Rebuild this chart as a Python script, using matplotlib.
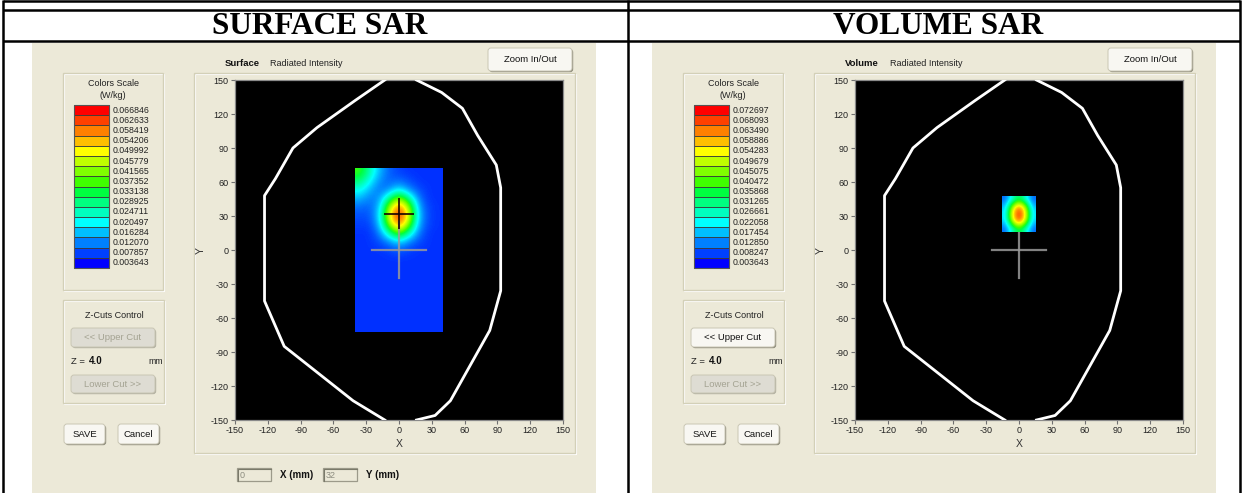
import matplotlib
matplotlib.use("Agg")
import matplotlib.pyplot as plt
from matplotlib.colors import LinearSegmentedColormap
from matplotlib.patches import Rectangle, FancyBboxPatch

# ---------------- data ----------------
titles = ["SURFACE SAR", "VOLUME SAR"]
mode_names = ["Surface", "Volume"]

scale_colors = ["#FF0000", "#FF4000", "#FF8000", "#FFBF00", "#FFFF00", "#BFFF00",
                "#80FF00", "#40FF00", "#00FF40", "#00FF80", "#00FFBF", "#00FFFF",
                "#00BFFF", "#0080FF", "#0040FF", "#0000FF"]

surface_labels = ["0.066846", "0.062633", "0.058419", "0.054206", "0.049992", "0.045779",
                  "0.041565", "0.037352", "0.033138", "0.028925", "0.024711", "0.020497",
                  "0.016284", "0.012070", "0.007857", "0.003643"]
volume_labels = ["0.072697", "0.068093", "0.063490", "0.058886", "0.054283", "0.049679",
                 "0.045075", "0.040472", "0.035868", "0.031265", "0.026661", "0.022058",
                 "0.017454", "0.012850", "0.008247", "0.003643"]
surface_range = [0.003643, 0.066846]
volume_range = [0.003643, 0.072697]

axis_ticks = [-150, -120, -90, -60, -30, 0, 30, 60, 90, 120, 150]

# SAR map of the surface scan (rows from top y=+72 to bottom y=-72, cols x=-40..40)
surface_extent = [-40, 40, -72, 72]
surface_sar = [
    [0.037, 0.026, 0.016, 0.010, 0.008, 0.007, 0.007, 0.007, 0.007],
    [0.030, 0.021, 0.013, 0.010, 0.011, 0.009, 0.007, 0.007, 0.007],
    [0.022, 0.016, 0.011, 0.013, 0.020, 0.013, 0.009, 0.007, 0.007],
    [0.016, 0.012, 0.013, 0.028, 0.044, 0.028, 0.012, 0.007, 0.007],
    [0.011, 0.010, 0.016, 0.044, 0.061, 0.044, 0.015, 0.008, 0.007],
    [0.009, 0.009, 0.018, 0.050, 0.067, 0.050, 0.017, 0.008, 0.007],
    [0.008, 0.008, 0.016, 0.043, 0.060, 0.043, 0.015, 0.008, 0.007],
    [0.007, 0.007, 0.012, 0.027, 0.042, 0.027, 0.012, 0.007, 0.007],
    [0.007, 0.007, 0.009, 0.013, 0.019, 0.013, 0.009, 0.007, 0.007],
    [0.007, 0.007, 0.007, 0.008, 0.010, 0.008, 0.007, 0.007, 0.007],
    [0.007, 0.007, 0.007, 0.007, 0.007, 0.007, 0.007, 0.007, 0.007],
    [0.007, 0.007, 0.007, 0.007, 0.007, 0.007, 0.007, 0.007, 0.007],
    [0.007, 0.007, 0.007, 0.007, 0.007, 0.007, 0.007, 0.007, 0.007],
    [0.007, 0.007, 0.007, 0.007, 0.007, 0.007, 0.007, 0.007, 0.007],
    [0.007, 0.007, 0.007, 0.007, 0.007, 0.007, 0.007, 0.007, 0.007],
    [0.007, 0.007, 0.007, 0.007, 0.007, 0.007, 0.007, 0.007, 0.007],
    [0.007, 0.007, 0.007, 0.007, 0.007, 0.007, 0.007, 0.007, 0.007],
    [0.007, 0.007, 0.007, 0.007, 0.007, 0.007, 0.007, 0.007, 0.007],
    [0.007, 0.007, 0.007, 0.007, 0.007, 0.007, 0.007, 0.007, 0.007],
]

# SAR map of the volume scan (rows top y=47.5 to bottom y=16, cols x=-15.5..15.5)
volume_extent = [-15.5, 15.5, 16, 47.5]
volume_sar = [
    [0.011, 0.024, 0.036, 0.024, 0.011],
    [0.017, 0.047, 0.066, 0.047, 0.017],
    [0.020, 0.055, 0.073, 0.055, 0.020],
    [0.018, 0.049, 0.068, 0.049, 0.018],
    [0.011, 0.026, 0.038, 0.026, 0.011],
]

# phantom outline (mm)
outline_left_x = [-13, -40, -75, -97, -113, -123, -123, -105, -42, -13]
outline_left_y = [150, 132, 108, 90, 63, 48, -45, -85, -133, -150]
outline_right_x = [16, 39, 58, 72, 89, 93, 93, 83, 47, 33, 16]
outline_right_y = [150, 139, 125, 101, 75, 55, -36, -71, -133, -146, -150]

# reference cross and peak marker (mm)
ref_cross_x = [-25, 25]
ref_cross_y = [-25, 25]
peak_xy = [0, 32]
peak_arm = 12.8

z_value = "4.0"
probe_x = "0"
probe_y = "32"

# ---------------- style ----------------
W, H = 1244, 493
PANEL = "#ECE9D8"
ETCH = "#D3D0B8"
NARROW = ["Liberation Sans Narrow", "Liberation Sans", "DejaVu Sans"]
plt.rcParams["font.family"] = NARROW
plt.rcParams["axes.unicode_minus"] = False

fig = plt.figure(figsize=(W / 100, H / 100), dpi=100)
fig.patch.set_facecolor("white")
bg = fig.add_axes([0, 0, 1, 1])
bg.set_xlim(0, W)
bg.set_ylim(H, 0)
bg.axis("off")

cmap = LinearSegmentedColormap.from_list("sar", scale_colors[::-1])

# table lines
for y in [1, 9.5, 41]:
    bg.plot([3, 1240], [y, y], color="black", lw=1.8, solid_capstyle="butt")
for x in [3, 628, 1240]:
    bg.plot([x, x], [0, H], color="black", lw=1.8, solid_capstyle="butt")
for cx, t in zip([320, 938], titles):
    bg.text(cx, 26, t, ha="center", va="center", fontsize=22.5, fontweight="bold",
            family="Liberation Serif", color="black")


def button(x0, y0, x1, y1, label, enabled=True, fs=6.8):
    bg.add_patch(FancyBboxPatch((x0 + 1.2, y0 + 1.2), x1 - x0, y1 - y0,
                                boxstyle="round,pad=0,rounding_size=3",
                                fc="#8F8D7C" if enabled else "#B3B1A2", ec="none"))
    bg.add_patch(FancyBboxPatch((x0, y0), x1 - x0, y1 - y0,
                                boxstyle="round,pad=0,rounding_size=3",
                                fc="#F8F7F2" if enabled else "#DEDCD3",
                                ec="#C9C6B4", lw=0.7))
    bg.text((x0 + x1) / 2, (y0 + y1) / 2 + 0.5, label, ha="center", va="center",
            fontsize=fs, color="#111111" if enabled else "#A4A392")


def etched(x0, y0, x1, y1):
    bg.add_patch(Rectangle((x0 + 1, y0 + 1), x1 - x0, y1 - y0, fc="none", ec="white", lw=0.8))
    bg.add_patch(Rectangle((x0, y0), x1 - x0, y1 - y0, fc="none", ec=ETCH, lw=1.0))


def panel(dx, idx):
    labels = surface_labels if idx == 0 else volume_labels
    bg.add_patch(Rectangle((32 + dx, 43), 564, 450, fc=PANEL, ec="none"))
    # colour scale box
    etched(63 + dx, 73, 163 + dx, 290)
    bg.text(113 + dx, 84, "Colors Scale", ha="center", va="center", fontsize=6.5, color="#222")
    bg.text(113 + dx, 95, "(W/kg)", ha="center", va="center", fontsize=6.5, color="#222")
    top, bot = 105, 268
    step = (bot - top) / len(scale_colors)
    for i, (c, lab) in enumerate(zip(scale_colors, labels)):
        y0 = top + i * step
        bg.add_patch(Rectangle((74 + dx, y0), 35, step, fc=c, ec="#3a3a3a", lw=0.6))
        bg.text(113 + dx, y0 + step / 2, lab, ha="left", va="center", fontsize=6.3, color="#222")
    bg.add_patch(Rectangle((74 + dx, top), 35, bot - top, fc="none", ec="#555", lw=0.8))
    # Z cuts
    etched(63 + dx, 300, 164 + dx, 403)
    bg.text(114 + dx, 315, "Z-Cuts Control", ha="center", va="center", fontsize=6.5, color="#222")
    button(71 + dx, 328, 155 + dx, 347, "<< Upper Cut", enabled=(idx == 1))
    bg.text(71 + dx, 361, "Z =", ha="left", va="center", fontsize=6.8, color="#222")
    bg.text(89 + dx, 361, z_value, ha="left", va="center", fontsize=7, fontweight="bold", color="#111")
    bg.text(148 + dx, 361, "mm", ha="left", va="center", fontsize=6.3, color="#222")
    button(71 + dx, 375, 155 + dx, 393, "Lower Cut >>", enabled=False)
    button(64 + dx, 424, 105 + dx, 444, "SAVE")
    button(118 + dx, 424, 159 + dx, 444, "Cancel")
    # header
    bg.text(225 + dx, 63, mode_names[idx], ha="left", va="center", fontsize=6.8,
            fontweight="bold", color="#111")
    bg.text(270 + dx, 63, "Radiated Intensity", ha="left", va="center", fontsize=6.5, color="#222")
    button(488 + dx, 48, 572 + dx, 71, "Zoom In/Out")
    # plot frame
    etched(194 + dx, 73, 575 + dx, 453)
    bg.text(399 + dx, 444, "X", ha="center", va="center", fontsize=7.5, color="#333")
    bg.text(201 + dx, 250, "Y", ha="center", va="center", fontsize=7.5, rotation=90, color="#333")


panel(0, 0)
panel(620, 1)

# bottom coordinate boxes (left only)
for x0, txt in [(237, probe_x), (323, probe_y)]:
    bg.add_patch(Rectangle((x0, 468), 34, 13, fc=PANEL, ec="#9C9A8A", lw=0.9))
    bg.plot([x0 + 1, x0 + 1, x0 + 34], [481, 469, 469], color="#7a7a6a", lw=0.8)
    bg.text(x0 + 3, 475, txt, ha="left", va="center", fontsize=6.5, color="#8d8d80")
bg.text(280, 475, "X (mm)", ha="left", va="center", fontsize=7, fontweight="bold", color="#111")
bg.text(366, 475, "Y (mm)", ha="left", va="center", fontsize=7, fontweight="bold", color="#111")


def sar_axes(left_px, grid, extent, vrange, cross_on_top, marker):
    ax = fig.add_axes([left_px / W, 1 - 420 / H, 328 / W, 340 / H])
    ax.set_facecolor("black")
    ax.imshow(grid, extent=extent, origin="upper", cmap=cmap, vmin=vrange[0], vmax=vrange[1],
              interpolation="bicubic", interpolation_stage="data", aspect="auto", zorder=2)
    cz = 3 if cross_on_top else 1.5
    ax.plot(ref_cross_x, [0, 0], color="#9a9a9a", alpha=0.85, lw=1.6, zorder=cz)
    ax.plot([0, 0], ref_cross_y, color="#9a9a9a", alpha=0.85, lw=1.6, zorder=cz)
    if marker:
        ax.plot([peak_xy[0] - peak_arm, peak_xy[0] + peak_arm], [peak_xy[1], peak_xy[1]],
                color="#150000", alpha=0.85, lw=1.4, zorder=4)
        ax.plot([peak_xy[0], peak_xy[0]], [peak_xy[1] - peak_arm, peak_xy[1] + peak_arm],
                color="#150000", alpha=0.85, lw=1.4, zorder=4)
    ax.plot(outline_left_x, outline_left_y, color="white", lw=2, zorder=5, solid_joinstyle="round")
    ax.plot(outline_right_x, outline_right_y, color="white", lw=2, zorder=5, solid_joinstyle="round")
    ax.set_xlim(-150, 150)
    ax.set_ylim(-150, 150)
    ax.set_xticks(axis_ticks)
    ax.set_yticks(axis_ticks)
    ax.tick_params(direction="out", length=3, width=0.8, color="#707070", labelsize=6.5,
                   labelcolor="#222", pad=1.5)
    for s in ax.spines.values():
        s.set_color("#8a8a8a")
        s.set_linewidth(0.9)
    return ax


sar_axes(235, surface_sar, surface_extent, surface_range, True, True)
sar_axes(855, volume_sar, volume_extent, volume_range, False, False)

fig.savefig("out.png", dpi=100, facecolor="white")
